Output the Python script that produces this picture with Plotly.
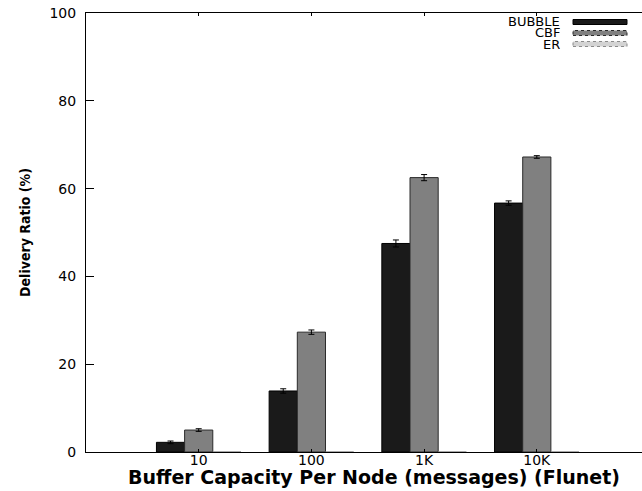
import plotly.graph_objects as go

categories = ["10", "100", "1K", "10K"]
series_names = ["BUBBLE", "CBF", "ER"]
bubble = [2.2, 13.9, 47.5, 56.7]
bubble_err = [0.3, 0.5, 0.8, 0.5]
cbf = [5.0, 27.3, 62.5, 67.2]
cbf_err = [0.3, 0.5, 0.7, 0.3]
er = [0, 0, 0, 0]
er_err = [0, 0, 0, 0]

values = [bubble, cbf, er]
errors = [bubble_err, cbf_err, er_err]
fills = ["#1a1a1a", "#808080", "#d3d3d3"]
edges = ["#000000", "#2a2a2a", "#8a8a8a"]

W, H = 642, 491
ML, MR, MT, MB = 86, 0, 13, 39
pw = W - ML - MR
ph = H - MT - MB

fig = go.Figure()
xs = list(range(len(categories)))
for name, v, e, f, ed in zip(series_names, values, errors, fills, edges):
    fig.add_trace(go.Bar(
        x=xs, y=v, name=name,
        marker=dict(color=f, line=dict(color=ed, width=1)),
        error_y=dict(type="data", array=e, visible=any(val > 0 for val in v),
                     color="black", thickness=1, width=3),
        showlegend=False,
    ))

# custom legend (text left of sample), gnuplot style
for i, (name, f, ed) in enumerate(zip(series_names, fills, edges)):
    py = 22 + 11 * i
    yp = 1 - (py - MT) / ph
    fig.add_annotation(x=(561 - ML) / pw, y=yp, xref="paper", yref="paper",
                       text=name, showarrow=False, xanchor="right", yanchor="middle",
                       height=11, borderpad=0, valign="middle",
                       font=dict(family="DejaVu Sans, Liberation Sans, sans-serif", size=13, color="black"))
    fig.add_shape(type="rect", xref="paper", yref="paper",
                  x0=(573 - ML) / pw, x1=(627 - ML) / pw,
                  y0=yp - 2.5 / ph, y1=yp + 2.5 / ph,
                  fillcolor=f, line=dict(color=ed, width=1,
                                         dash=["solid", "dot", "dot"][i]))

fig.add_annotation(
    x=(374 - ML) / pw, y=-(477 - MT - ph) / ph, xref="paper", yref="paper",
    text="<b>Buffer Capacity Per Node (messages) (Flunet)</b>", showarrow=False,
    xanchor="center", yanchor="middle", borderpad=0,
    font=dict(family="DejaVu Sans, Liberation Sans, sans-serif", size=19, color="black"))

fig.update_layout(
    width=W, height=H,
    margin=dict(l=ML, r=MR, t=MT, b=MB),
    paper_bgcolor="white", plot_bgcolor="white",
    barmode="group", bargap=0.25, bargroupgap=0,
    font=dict(family="DejaVu Sans, Liberation Sans, sans-serif", color="black"),
    xaxis=dict(
        range=[-1, -1 + pw / 112.7],
        tickmode="array", tickvals=xs, ticktext=categories,
        ticks="inside", ticklen=3, tickcolor="black",
        showline=True, linecolor="black", linewidth=1, mirror="ticks",
        showgrid=False, zeroline=False,
        tickfont=dict(size=14),
        ticklabelstandoff=-5,
        automargin=False,
    ),
    yaxis=dict(
        range=[0, 100], tickvals=[0, 20, 40, 60, 80, 100],
        ticks="inside", ticklen=8, tickcolor="black",
        showline=True, linecolor="black", linewidth=1, mirror=False,
        showgrid=False, zeroline=False,
        tickfont=dict(size=14),
        ticklabelstandoff=6,
        title=dict(text="<b>Delivery Ratio (%)</b>",
                   font=dict(family="DejaVu Sans Condensed, Liberation Sans Narrow, sans-serif", size=14),
                   standoff=15),
        automargin=False,
    ),
)

fig.write_html("out.html")
